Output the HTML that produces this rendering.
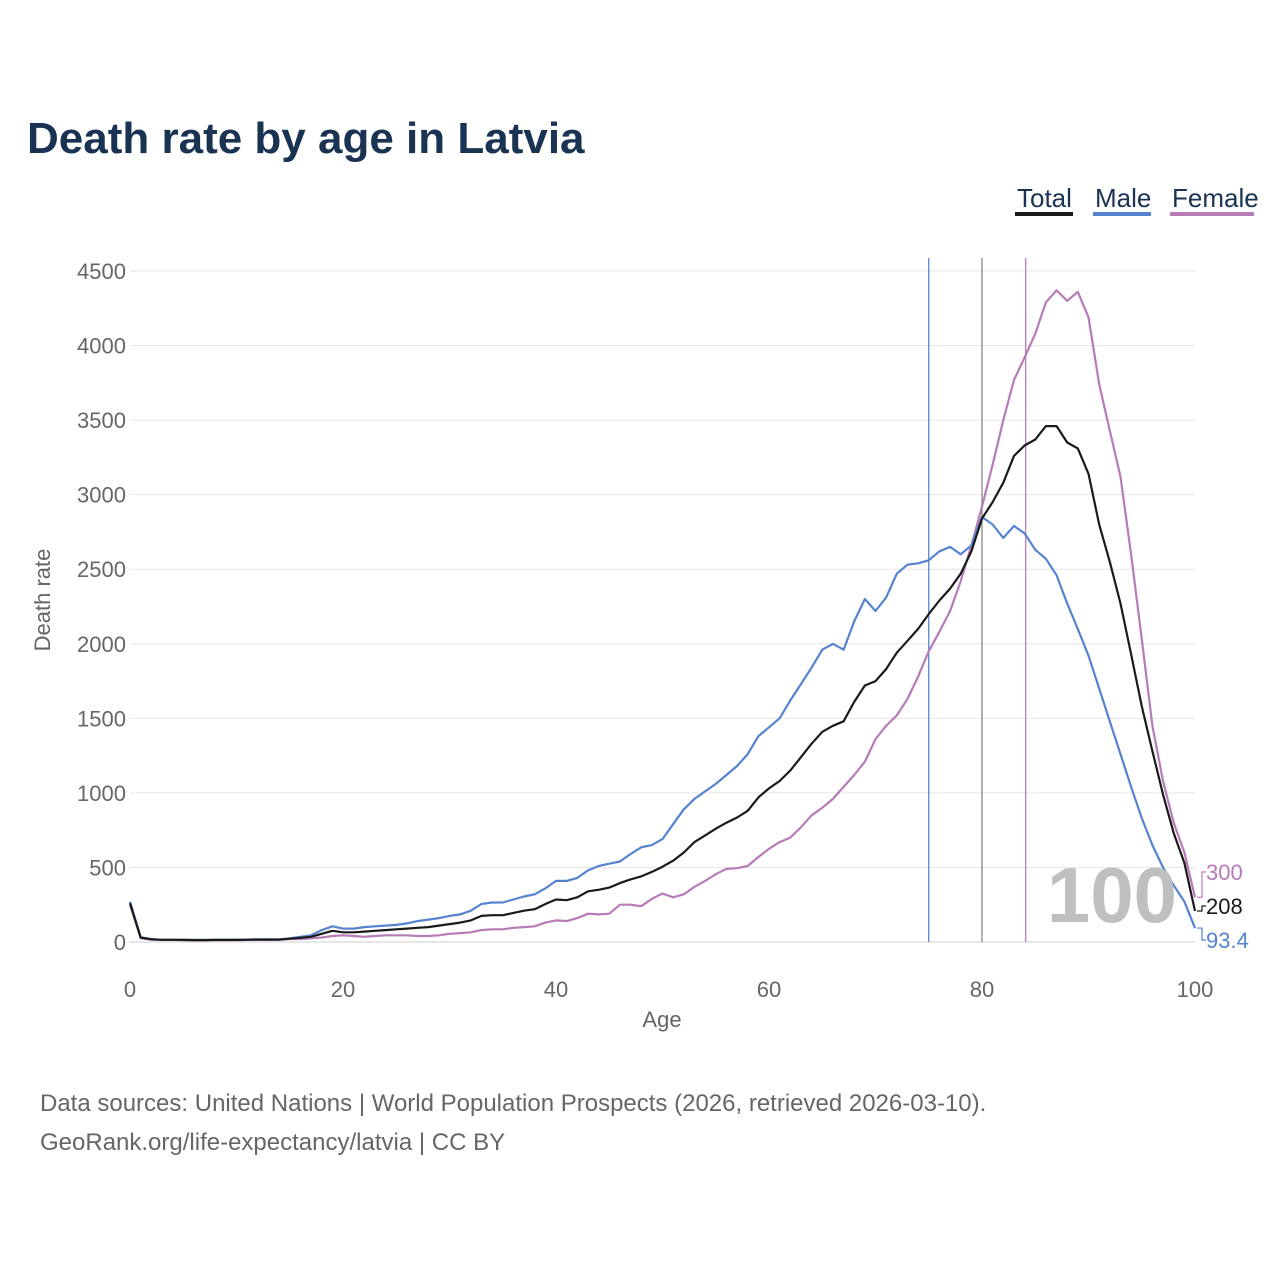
<!DOCTYPE html>
<html><head><meta charset="utf-8">
<style>
body{margin:0;background:#fff;font-family:"Liberation Sans",sans-serif;}
svg{display:block}
</style></head>
<body>
<svg id="chart" width="1280" height="1280" xmlns="http://www.w3.org/2000/svg" font-family="Liberation Sans, sans-serif">
<text x="27" y="153" font-size="44" font-weight="bold" fill="#1b3353">Death rate by age in Latvia</text>
<g font-size="26">
<text x="1017" y="207" fill="#1b3353">Total</text>
<rect x="1015" y="212" width="58" height="4" fill="#1a1a1a"/>
<text x="1095" y="207" fill="#1b3353">Male</text>
<rect x="1093" y="212" width="58" height="4" fill="#5683d0"/>
<text x="1172" y="207" fill="#1b3353">Female</text>
<rect x="1170" y="212" width="84" height="4" fill="#b77bb8"/>
</g>
<g id="grid"></g>
<g id="marks"></g>
<text x="662" y="1027" font-size="22" fill="#666" text-anchor="middle">Age</text>
<text transform="translate(50,600) rotate(-90)" font-size="22" fill="#666" text-anchor="middle">Death rate</text>
<text x="1112" y="922" font-size="78" font-weight="bold" fill="#bfbfbf" text-anchor="middle">100</text>
<text x="40" y="1111" font-size="24" fill="#666">Data sources: United Nations | World Population Prospects (2026, retrieved 2026-03-10).</text>
<text x="40" y="1150" font-size="24" fill="#666">GeoRank.org/life-expectancy/latvia | CC BY</text>
</svg>
<script>
const yTicks=[0,500,1000,1500,2000,2500,3000,3500,4000,4500];
const xTicks=[0,20,40,60,80,100];
const male=[270,30,20,15,15,15,14,14,15,15,15,16,18,18,18,25,35,45,80,105,90,90,100,105,110,115,125,140,150,160,175,185,210,255,265,265,285,305,320,360,410,410,430,480,510,525,540,590,635,650,690,790,890,960,1010,1060,1120,1180,1260,1380,1440,1500,1620,1730,1840,1960,2000,1960,2150,2300,2220,2310,2470,2530,2540,2560,2620,2650,2600,2660,2850,2800,2710,2790,2740,2630,2570,2460,2270,2100,1920,1700,1480,1260,1040,830,650,500,380,270,93.4];
const total=[260,30,18,15,15,14,13,13,14,14,14,15,16,16,16,22,28,35,55,75,65,65,70,75,80,85,90,95,100,110,120,130,145,175,180,180,195,210,220,255,285,280,300,340,350,365,395,420,440,470,505,545,600,670,715,760,800,835,880,970,1030,1080,1150,1240,1330,1410,1450,1480,1610,1720,1750,1830,1940,2020,2100,2200,2290,2370,2470,2620,2840,2950,3080,3260,3330,3370,3460,3460,3350,3310,3140,2800,2550,2270,1930,1580,1280,990,730,530,208];
const female=[250,25,16,15,14,13,12,12,13,13,13,14,14,14,15,20,20,25,30,40,45,40,35,40,45,45,45,40,40,45,55,60,65,80,85,85,95,100,105,130,145,140,160,190,185,190,250,250,240,290,325,300,320,370,410,455,490,495,510,570,625,670,700,770,850,900,960,1040,1120,1210,1360,1450,1520,1630,1780,1950,2080,2220,2420,2660,2920,3200,3500,3770,3920,4080,4290,4370,4300,4360,4190,3740,3430,3120,2600,2030,1450,1080,800,600,300];
const lifeExp=[75.0,80.0,84.1];
const NS="http://www.w3.org/2000/svg";
const X=a=>130+a*10.65, Y=v=>942-v*671/4500;
function mk(t,attrs,parent){const e=document.createElementNS(NS,t);for(const k in attrs)e.setAttribute(k,attrs[k]);parent.appendChild(e);return e;}
const grid=document.getElementById('grid'), marks=document.getElementById('marks');
yTicks.forEach(v=>{
 const l=mk('line',{x1:130,x2:1195,y1:Y(v),y2:Y(v),stroke:v===0?'#ccc':'#e6e6e6','stroke-width':1},grid);
 
 
 const t=mk('text',{x:126,y:Y(v)+8,'font-size':22,fill:'#666','text-anchor':'end'},grid);
 t.textContent=v;
 
 
});
xTicks.forEach(v=>{
 const t=mk('text',{x:X(v),y:997,'font-size':22,fill:'#666','text-anchor':'middle'},grid);
 t.textContent=v;
 
 
});
const colors=['#5683d0','#888','#b77bb8'];
lifeExp.forEach((a,i)=>{
 const l=mk('line',{x1:X(a),x2:X(a),y1:258,y2:942,stroke:colors[i],'stroke-width':1.3},marks);
 
 
});
[[female,'#b77bb8','female-line'],[male,'#5683d0','male-line'],[total,'#1a1a1a','total-line']].forEach(([d,c,n])=>{
 const p=mk('path',{d:d.map((v,i)=>(i?'L':'M')+X(i).toFixed(1)+','+Y(v).toFixed(1)).join(''),fill:'none',stroke:c,'stroke-width':2.2,'stroke-linejoin':'round'},marks);
 
 
});
const ends=[[female[100],'#b77bb8',872,'female-end-label'],[total[100],'#1a1a1a',906,'total-end-label'],[male[100],'#5683d0',940,'male-end-label']];
ends.forEach(([v,c,ly,n])=>{
 const y0=Y(v);
 mk('path',{d:`M1197,${y0} L1202,${y0} L1202,${ly} L1206,${ly}`,fill:'none',stroke:c,'stroke-width':1.2},marks);
 const t=mk('text',{x:1206,y:ly+8,'font-size':22,fill:c},marks);
 t.textContent=String(v);
 
 
});
</script>
</body></html>
